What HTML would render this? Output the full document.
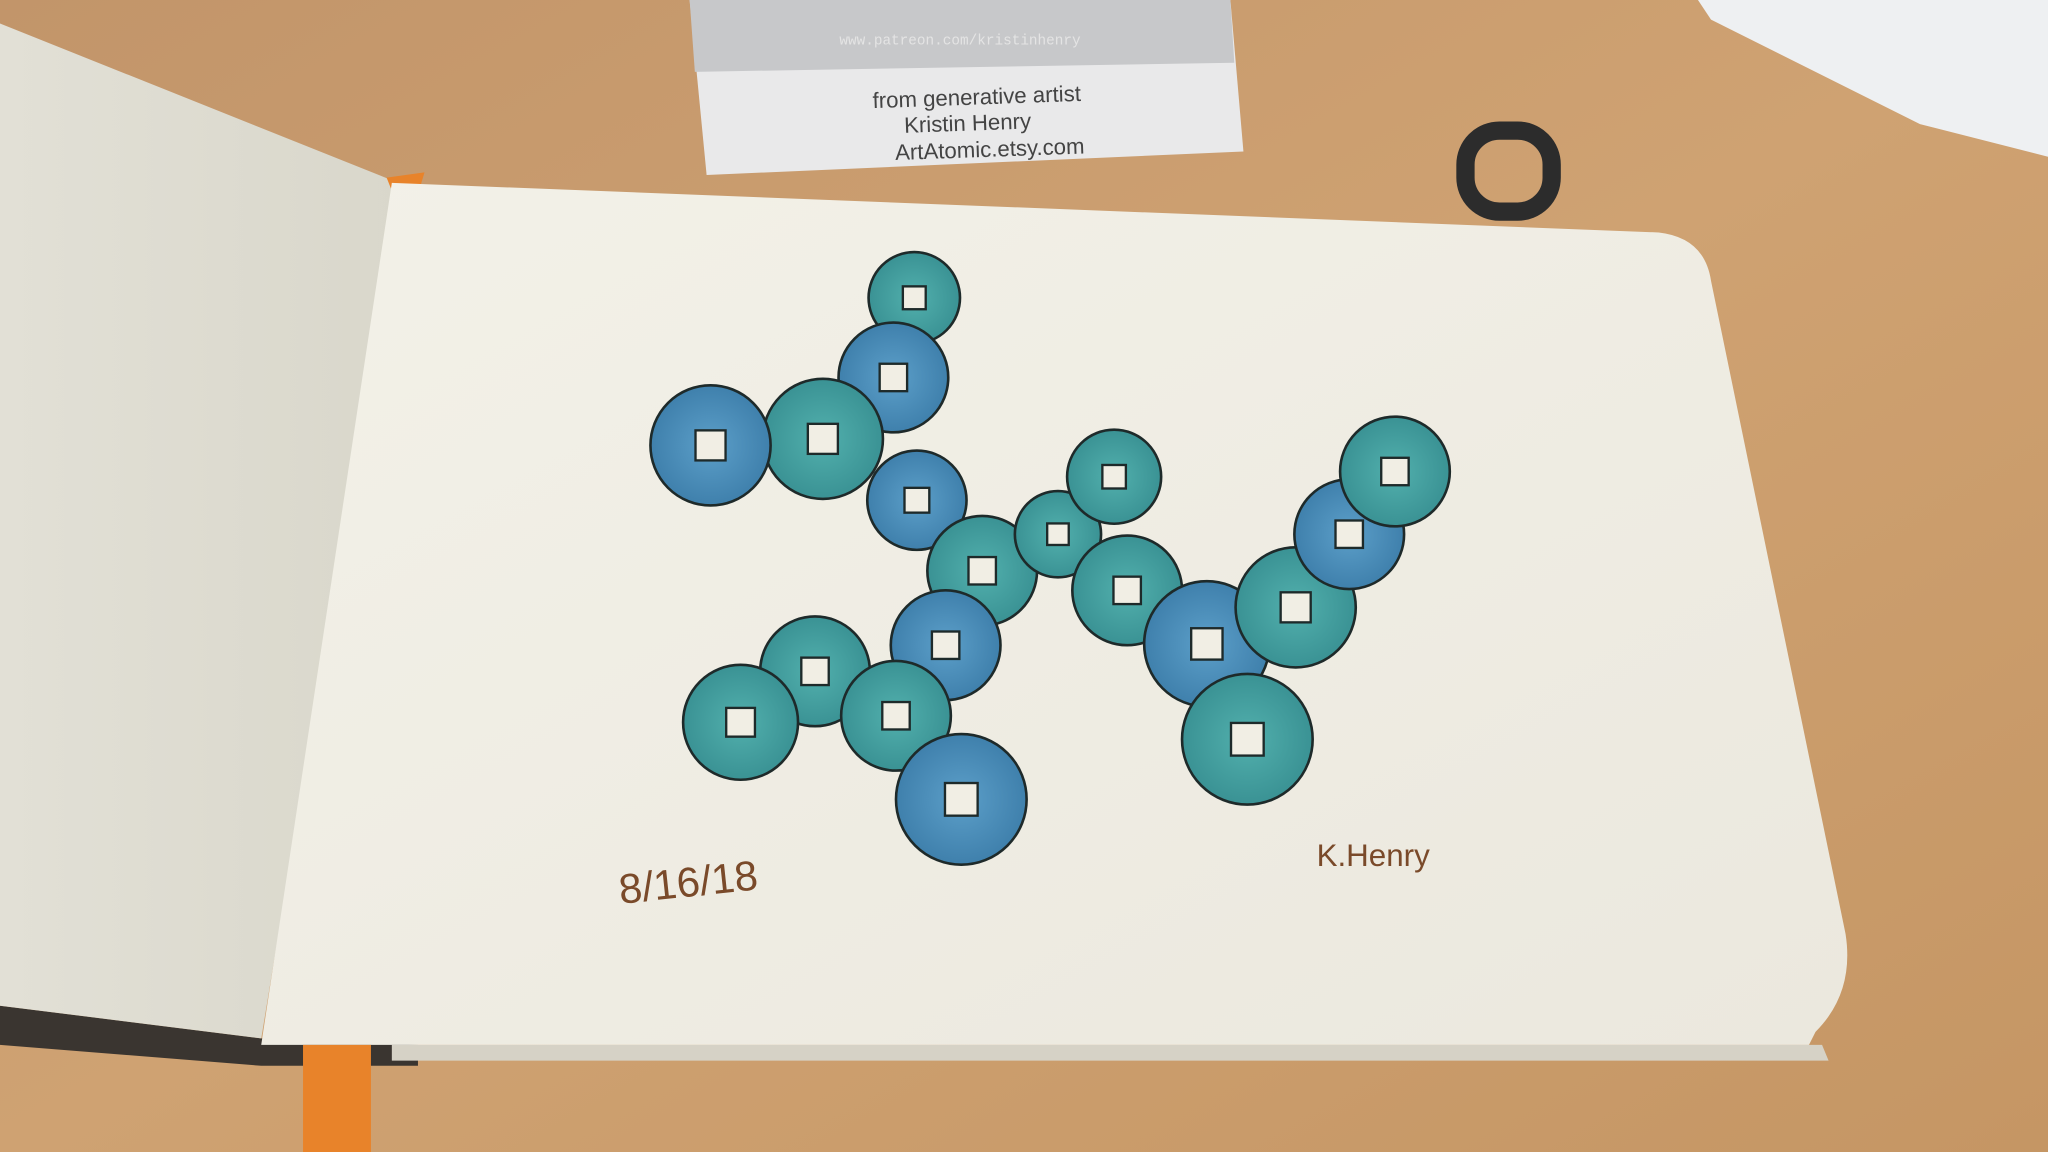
<!DOCTYPE html>
<html><head><meta charset="utf-8"><style>
html,body{margin:0;padding:0;background:#c89b6c}
svg{display:block}
</style></head><body>
<svg id="scene" width="2048" height="1152" viewBox="0 0 1568 882" xmlns="http://www.w3.org/2000/svg">
<defs>
<linearGradient id="wood" x1="0" y1="0" x2="1" y2="1"><stop offset="0" stop-color="#c2956a"/><stop offset="0.5" stop-color="#cfa272"/><stop offset="1" stop-color="#c59664"/></linearGradient>
<linearGradient id="page" x1="0" y1="0" x2="1" y2="1"><stop offset="0" stop-color="#f3f1e8"/><stop offset="1" stop-color="#ebe8de"/></linearGradient>
<linearGradient id="lpage" x1="0" y1="0" x2="1" y2="0"><stop offset="0" stop-color="#e2e0d6"/><stop offset="1" stop-color="#d9d7cb"/></linearGradient>
<radialGradient id="teal"><stop offset="0" stop-color="#52b0ad"/><stop offset="1" stop-color="#3a9294"/></radialGradient>
<radialGradient id="blue"><stop offset="0" stop-color="#5c9fc9"/><stop offset="1" stop-color="#3f80ac"/></radialGradient>
</defs>
<rect x="0" y="0" width="1568" height="882" fill="url(#wood)"/>
<polygon points="1300,0 1568,0 1568,120 1470,95 1310,15" fill="#eef0f2"/>
<polygon points="528,0 942,0 952,116 541,134" fill="#e9e9ea"/>
<polygon points="528,0 942,0 945,48 532,55" fill="#c7c8ca"/>
<text x="735" y="34" font-family="Liberation Mono, monospace" font-size="11" fill="#e4e4e4" text-anchor="middle">www.patreon.com/kristinhenry</text>
<text x="748" y="80" font-family="Liberation Sans, sans-serif" font-size="17" fill="#444" text-anchor="middle" transform="rotate(-2 748 80)">from generative artist</text>
<text x="741" y="100" font-family="Liberation Sans, sans-serif" font-size="17" fill="#444" text-anchor="middle" transform="rotate(-2 741 100)">Kristin Henry</text>
<text x="758" y="120" font-family="Liberation Sans, sans-serif" font-size="17" fill="#444" text-anchor="middle" transform="rotate(-2 758 120)">ArtAtomic.etsy.com</text>
<rect x="1122" y="100" width="66" height="62" rx="26" fill="none" stroke="#2c2c2c" stroke-width="14"/>
<polygon points="0,770 200,795 320,800 320,816 200,816 0,800" fill="#3a3530"/>
<polygon points="300,800 1395,800 1400,812 300,812" fill="#d6d2c6"/>
<polygon points="0,18 300,138 305,160 200,795 0,770" fill="url(#lpage)"/>
<polygon points="296,136 325,132 322,142 300,146" fill="#e8832a"/>
<path d="M300,140 L1270,178 Q1305,182 1310,215 L1413,715 Q1420,760 1390,790 L1385,800 L200,800 Z" fill="url(#page)"/>
<rect x="232" y="800" width="52" height="82" fill="#e8832a"/>
<g id="circles"></g>
<text x="475" y="692" font-family="Liberation Sans, sans-serif" font-size="32" fill="#7a4a2a" transform="rotate(-6 475 692)">8/16/18</text>
<text x="1008" y="663" font-family="Liberation Sans, sans-serif" font-size="24" fill="#7a4a2a">K.Henry</text>
</svg>
<script>
const cx=[700,684,630,544,702,752,810,853,863,924,992,1033,1068,955,724,624,567,686,736];
const cy=[228,289,336,341,383,437,409,365,452,493,465,409,361,566,494,514,553,548,612];
const rad=[35,42,46,46,38,42,33,36,42,48,46,42,42,50,42,42,44,42,50];
const tone=["teal","blue","teal","blue","blue","teal","teal","teal","teal","blue","teal","blue","teal","teal","blue","teal","teal","teal","blue"];
const g=document.getElementById('circles');
const NS='http://www.w3.org/2000/svg';
for(let i=0;i<cx.length;i++){
  const c=document.createElementNS(NS,'circle');
  
  
  c.setAttribute('cx',cx[i]);c.setAttribute('cy',cy[i]);c.setAttribute('r',rad[i]);
  c.setAttribute('fill','url(#'+tone[i]+')');c.setAttribute('stroke','#1e2a2a');c.setAttribute('stroke-width','2');
  g.appendChild(c);
}
for(let i=0;i<cx.length;i++){
  const s=rad[i]*0.5;
  const r=document.createElementNS(NS,'rect');
  
  
  r.setAttribute('x',cx[i]-s/2);r.setAttribute('y',cy[i]-s/2);r.setAttribute('width',s);r.setAttribute('height',s);
  r.setAttribute('fill','#f1eee4');r.setAttribute('stroke','#1e2a2a');r.setAttribute('stroke-width','1.8');
  g.appendChild(r);
}
</script>
</body></html>
